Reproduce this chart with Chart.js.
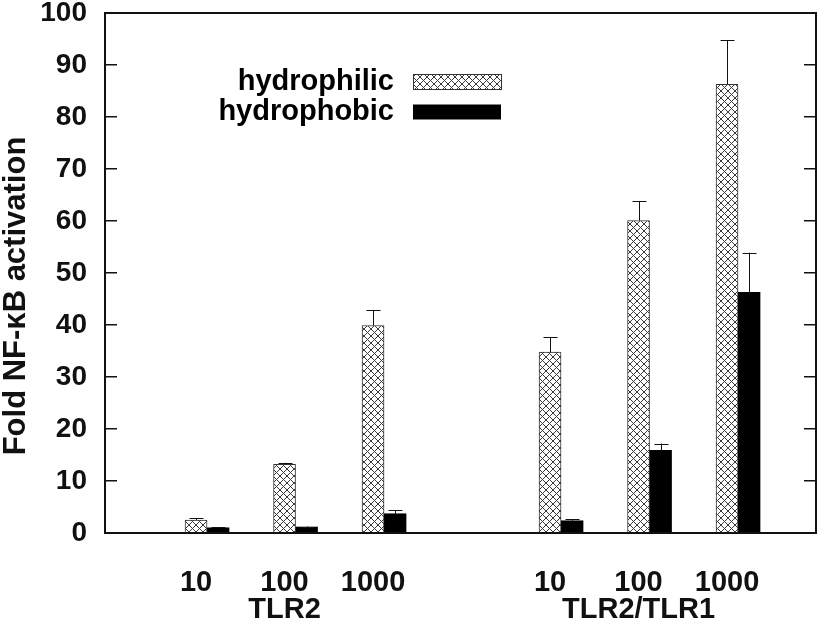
<!DOCTYPE html>
<html>
<head>
<meta charset="utf-8">
<script src="https://cdn.jsdelivr.net/npm/chart.js@4.4.1/dist/chart.umd.min.js"></script>
<style>
  body { margin: 0; background: #fff; }
</style>
</head>
<body>
<canvas id="myChart" width="820" height="620"></canvas>
<script>
// data
const groups = ['TLR2', 'TLR2/TLR1'];
const doses = ['10', '100', '1000', '10', '100', '1000'];
const xPos = [1, 2, 3, 5, 6, 7];

const hydrophilic = [2.5, 13.2, 39.9, 34.8, 60.1, 86.3];
const hydrophilicErr = [0.4, 0.3, 2.9, 2.9, 3.7, 8.5];
const hydrophobic = [1.0, 1.15, 3.7, 2.35, 15.9, 46.3];
const hydrophobicErr = [0.1, 0.1, 0.7, 0.35, 1.3, 7.6];

const yTitle = 'Fold NF-κB activation';

const canvas = document.getElementById('myChart');
const ctx = canvas.getContext('2d');

// cross hatch fill
function makeHatch() {
  const c = document.createElement('canvas');
  c.width = 7; c.height = 7;
  const g = c.getContext('2d');
  g.fillStyle = '#fff';
  g.fillRect(0, 0, 7, 7);
  g.strokeStyle = '#3a3a3a';
  g.lineWidth = 1;
  g.beginPath();
  g.moveTo(-1, -1); g.lineTo(8, 8);
  g.moveTo(8, -1); g.lineTo(-1, 8);
  g.stroke();
  return ctx.createPattern(c, 'repeat');
}
const hatch = makeHatch();

const font = "'Liberation Sans', Arial, Helvetica, sans-serif";

function pts(vals) {
  return vals.map((v, i) => ({ x: xPos[i], y: v }));
}

const data = {
  datasets: [{
    label: 'hydrophilic',
    data: pts(hydrophilic),
    errors: hydrophilicErr,
    backgroundColor: hatch,
    borderColor: '#333',
    borderWidth: 1,
    barThickness: 22
  }, {
    label: 'hydrophobic',
    data: pts(hydrophobic),
    errors: hydrophobicErr,
    backgroundColor: '#000',
    borderColor: '#000',
    borderWidth: 0,
    barThickness: 22
  }]
};

// error bars (upper only)
const errorBars = {
  id: 'errorBars',
  afterDatasetsDraw(chart) {
    const c = chart.ctx;
    const y = chart.scales.y;
    c.save();
    c.strokeStyle = '#111';
    c.lineWidth = 1;
    chart.data.datasets.forEach((ds, i) => {
      const meta = chart.getDatasetMeta(i);
      meta.data.forEach((bar, j) => {
        const top = y.getPixelForValue(ds.data[j].y + ds.errors[j]);
        const x = Math.round(bar.x) + 0.5;
        c.beginPath();
        c.moveTo(x, bar.y);
        c.lineTo(x, top);
        c.moveTo(x - 7, Math.round(top) + 0.5);
        c.lineTo(x + 7, Math.round(top) + 0.5);
        c.stroke();
      });
    });
    c.restore();
  }
};

// plot frame, legend inside the plot, y title
const frameLegend = {
  id: 'frameLegend',
  afterDraw(chart) {
    const c = chart.ctx;
    const a = chart.chartArea;
    c.save();
    c.strokeStyle = '#111';
    c.lineWidth = 2;
    c.strokeRect(a.left, a.top, a.right - a.left, a.bottom - a.top);

    const boxL = 413, boxW = 88, boxH = 15;
    const rows = [81.5, 112];
    chart.data.datasets.forEach((ds, i) => {
      const cy = rows[i];
      c.fillStyle = ds.backgroundColor;
      c.fillRect(boxL, cy - boxH / 2, boxW, boxH);
      if (i === 0) {
        c.strokeStyle = '#333';
        c.lineWidth = 1;
        c.strokeRect(boxL + 0.5, cy - boxH / 2 + 0.5, boxW, boxH);
      }
      c.fillStyle = '#000';
      c.font = 'bold 29px ' + font;
      c.textAlign = 'right';
      c.textBaseline = 'middle';
      c.fillText(ds.label, 394, cy);
    });

    // y axis title
    c.translate(16, 296);
    c.rotate(-Math.PI / 2);
    c.fillStyle = '#111';
    c.font = 'bold 31px ' + font;
    c.textAlign = 'center';
    c.textBaseline = 'middle';
    c.fillText(yTitle, 0, 0);
    c.restore();
  }
};

const config = {
  type: 'bar',
  data,
  options: {
    responsive: false,
    devicePixelRatio: 1,
    animation: false,
    layout: { padding: { top: 13, left: 0, right: 0, bottom: 0 } },
    plugins: {
      legend: { display: false },
      tooltip: { enabled: false }
    },
    scales: {
      x: {
        type: 'linear',
        offset: false,
        min: -0.153,
        max: 7.881,
        afterBuildTicks: (scale) => { scale.ticks = xPos.map(v => ({ value: v })); },
        afterFit: (scale) => {
          scale.height = 87;
          scale.paddingLeft = 0;
          scale.paddingRight = 0;
        },
        grid: { display: false, drawTicks: false },
        border: { display: false },
        ticks: {
          autoSkip: false,
          maxRotation: 0,
          minRotation: 0,
          padding: 37,
          labelOffset: -11,
          color: '#111',
          font: { family: font, size: 29, weight: 'bold', lineHeight: 0.93 },
          callback: (value) => {
            const i = xPos.indexOf(value);
            if (i < 0) return '';
            if (i % 3 === 1) return [doses[i], groups[Math.floor(i / 3)]];
            return doses[i];
          }
        }
      },
      y: {
        position: 'left',
        min: 0,
        max: 100,
        afterFit: (scale) => {
          scale.width = 105;
          scale.paddingTop = 0;
          scale.paddingBottom = 0;
        },
        border: { display: false },
        grid: { drawOnChartArea: false, tickLength: -12, color: '#111', lineWidth: 1.5 },
        ticks: {
          stepSize: 10,
          padding: 30,
          color: '#111',
          font: { family: font, size: 28, weight: 'bold' }
        }
      },
      y2: {
        position: 'right',
        min: 0,
        max: 100,
        afterFit: (scale) => {
          scale.width = 4;
          scale.paddingTop = 0;
          scale.paddingBottom = 0;
        },
        border: { display: false },
        grid: { drawOnChartArea: false, tickLength: -12, color: '#111', lineWidth: 1.5 },
        ticks: { stepSize: 10, display: false }
      }
    }
  },
  plugins: [errorBars, frameLegend]
};

const myChart = new Chart(canvas, config);
</script>
</body>
</html>
